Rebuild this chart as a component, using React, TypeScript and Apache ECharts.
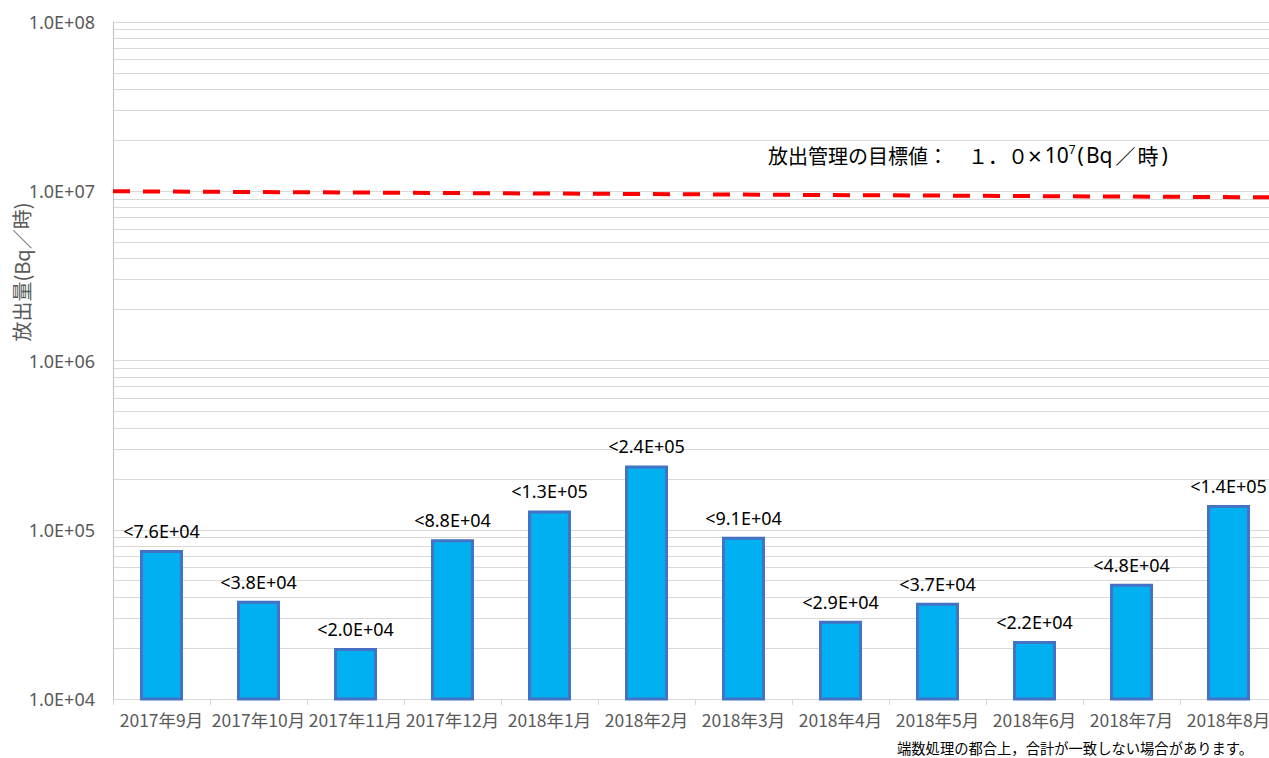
import React, { useEffect, useRef } from "react";
import * as echarts from "echarts";

const categories = [
  "2017年9月", "2017年10月", "2017年11月", "2017年12月",
  "2018年1月", "2018年2月", "2018年3月", "2018年4月",
  "2018年5月", "2018年6月", "2018年7月", "2018年8月",
];
const releaseValues = [7.6e4, 3.8e4, 2.0e4, 8.8e4, 1.3e5, 2.4e5, 9.1e4, 2.9e4, 3.7e4, 2.2e4, 4.8e4, 1.4e5];
const targetLine = [[0, 1.0e7], [1, 9.2e6]];
const minorGridValues = [
  2e4, 3e4, 4e4, 5e4, 6e4, 7e4, 8e4, 9e4,
  2e5, 3e5, 4e5, 5e5, 6e5, 7e5, 8e5, 9e5,
  2e6, 3e6, 4e6, 5e6, 6e6, 7e6, 8e6, 9e6,
  2e7, 3e7, 4e7, 5e7, 6e7, 7e7, 8e7, 9e7,
];
const yMin = 1e4;
const yMax = 1e8;

const JP = '"Noto Sans CJK JP", "Noto Sans", sans-serif';
const NUM = '"Noto Sans", "Liberation Sans", sans-serif';

function sci(v: number): string {
  const e = Math.floor(Math.log10(v) + 1e-9);
  const m = v / Math.pow(10, e);
  const sign = e >= 0 ? "+" : "-";
  const ea = Math.abs(e);
  return m.toFixed(1) + "E" + sign + (ea < 10 ? "0" : "") + ea;
}

export default function App() {
  const ref = useRef<HTMLDivElement>(null);
  useEffect(() => {
    document.body.style.margin = "0";
    document.body.style.overflow = "hidden";
    const chart = echarts.init(ref.current!, null, { renderer: "svg" });
    chart.setOption({
      animation: false,
      backgroundColor: "#ffffff",
      grid: { left: 113, top: 22, right: 13, bottom: 59, containLabel: false },
      xAxis: [
        {
          type: "category",
          data: categories,
          axisLine: { show: true, lineStyle: { color: "#D9D9D9", width: 1 } },
          axisTick: { show: true, alignWithLabel: false, length: 6, lineStyle: { color: "#D9D9D9" } },
          axisLabel: { color: "#595959", fontSize: 17.5, fontFamily: JP, margin: 12, interval: 0 },
          splitLine: { show: false },
        },
        {
          type: "value",
          min: 0,
          max: 1,
          show: false,
        },
      ],
      yAxis: {
        type: "log",
        logBase: 10,
        min: yMin,
        max: yMax,
        axisLine: { show: true, lineStyle: { color: "#BFBFBF", width: 1 } },
        axisTick: { show: false },
        splitLine: { show: true, lineStyle: { color: "#D9D9D9", width: 1 } },
        axisLabel: {
          color: "#595959",
          fontSize: 18,
          fontFamily: NUM,
          margin: 18,
          formatter: (v: number) => sci(v),
        },
      },
      series: [
        {
          type: "bar",
          data: releaseValues,
          barWidth: 43,
          itemStyle: { color: "#00B0F0", borderColor: "#4472C4", borderWidth: 3 },
          label: {
            show: true,
            position: "top",
            distance: 10,
            color: "#000000",
            fontSize: 18,
            fontFamily: NUM,
            formatter: (p: any) => "<" + sci(p.value),
          },
          markLine: {
            silent: true,
            symbol: "none",
            label: { show: false },
            lineStyle: { color: "#D9D9D9", width: 1, type: "solid" },
            data: minorGridValues.map((v) => ({ yAxis: v })),
            z: 0,
          },
          z: 3,
        },
        {
          type: "line",
          xAxisIndex: 1,
          data: targetLine,
          symbol: "none",
          lineStyle: { color: "#FF0000", width: 4, type: [17, 13] },
          z: 4,
        },
      ],
      graphic: [
        {
          type: "text",
          x: 21,
          y: 272,
          rotation: Math.PI / 2,
          style: {
            text: "放出量(Bq／時)",
            fontSize: 20,
            fontFamily: JP,
            fill: "#595959",
            align: "center",
            verticalAlign: "middle",
          },
        },
        {
          type: "text",
          left: 768,
          top: 143,
          style: {
            text: "放出管理の目標値：{g| }{n|１．０}{x|×}{d|10}{sup|7}{p|(}{b|Bq}{s|／}{t|時}{q|)}",
            fontSize: 20,
            fontFamily: JP,
            fill: "#000000",
            rich: {
              g: { width: 20, fontSize: 20 },
              n: { fontSize: 20, fontFamily: JP, fill: "#000000" },
              x: { fontSize: 24, fontFamily: NUM, fill: "#000000", padding: [0, 2, 0, 0] },
              d: { fontSize: 21, fontFamily: NUM, fill: "#000000", padding: [0, 0, 0, 1] },
              sup: { fontSize: 12, fontFamily: NUM, fill: "#000000", verticalAlign: "top", padding: [0, 1, 10, 0] },
              p: { fontSize: 21, fontFamily: NUM, fill: "#000000", padding: [0, 2, 0, 1] },
              b: { fontSize: 21, fontFamily: NUM, fill: "#000000", padding: [0, 2, 0, 0] },
              s: { fontSize: 20, fontFamily: JP, fill: "#000000", padding: [0, 2, 0, 1] },
              t: { fontSize: 21, fontFamily: JP, fill: "#000000", padding: [0, 3, 0, 0] },
              q: { fontSize: 21, fontFamily: NUM, fill: "#000000" },
            },
          },
        },
        {
          type: "text",
          left: 897,
          top: 740,
          style: {
            text: "端数処理の都合上，合計が一致しない場合があります。",
            fontSize: 14.3,
            fontFamily: JP,
            fill: "#000000",
          },
        },
      ],
    });
    return () => chart.dispose();
  }, []);
  return (
    <div style={{ width: 1269, height: 758, overflow: "hidden", position: "relative" }}>
      <div ref={ref} style={{ width: 1290, height: 758, position: "absolute", left: 0, top: 0 }} />
    </div>
  );
}
